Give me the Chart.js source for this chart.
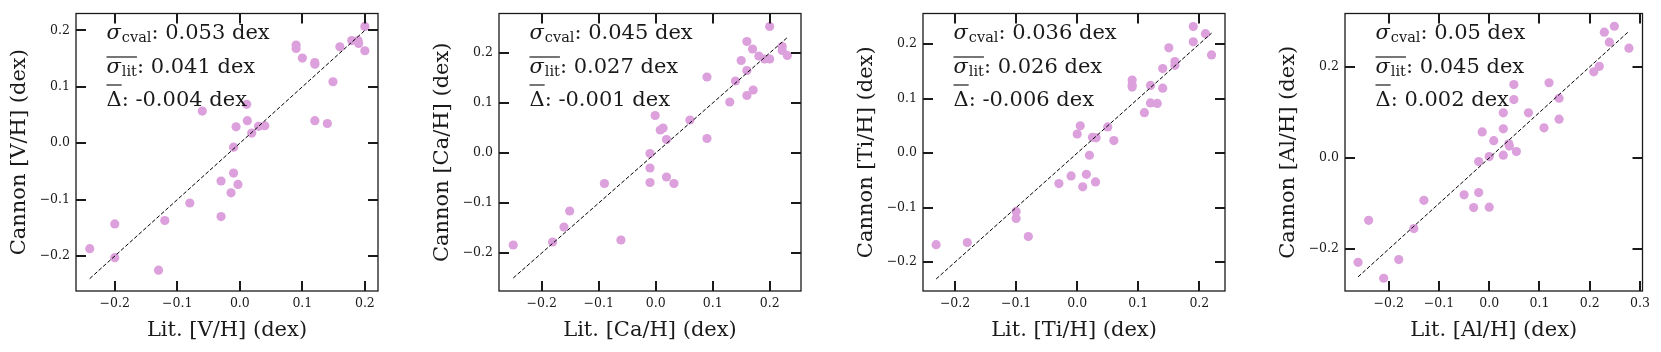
<!DOCTYPE html>
<html>
<head>
<meta charset="utf-8">
<script src="https://cdn.jsdelivr.net/npm/chart.js@4.4.0/dist/chart.umd.min.js"></script>
<style>
  html, body { margin: 0; padding: 0; background: #fff; }
  #wrap { position: relative; width: 1661px; height: 352px; overflow: hidden; }
  #wrap canvas { position: absolute; top: 0; }
</style>
</head>
<body>
<div id="wrap"></div>
<script>
// element names shown in the axis titles
const elements = ['V', 'Ca', 'Ti', 'Al'];

// literature vs Cannon abundances, one pair of arrays per panel
const litV = [-0.24, -0.20, -0.20, -0.13, -0.12, -0.08, -0.06, -0.03, -0.03, -0.014, -0.01, -0.01, -0.006, -0.003, 0.011, 0.012, 0.019, 0.03, 0.04, 0.09, 0.09, 0.10, 0.12, 0.12, 0.12, 0.14, 0.149, 0.16, 0.179, 0.189, 0.19, 0.20, 0.20];
const cannonV = [-0.187, -0.143, -0.203, -0.225, -0.137, -0.106, 0.057, -0.067, -0.130, -0.088, -0.053, -0.007, 0.029, -0.073, 0.069, 0.040, 0.018, 0.030, 0.031, 0.174, 0.168, 0.151, 0.143, 0.140, 0.040, 0.035, 0.109, 0.171, 0.182, 0.182, 0.177, 0.207, 0.164];

const litCa = [-0.25, -0.181, -0.161, -0.151, -0.09, -0.061, -0.01, -0.01, -0.01, -0.001, 0.008, 0.013, 0.019, 0.019, 0.032, 0.06, 0.09, 0.09, 0.13, 0.14, 0.15, 0.16, 0.16, 0.16, 0.171, 0.17, 0.181, 0.191, 0.20, 0.20, 0.222, 0.222, 0.231];
const cannonCa = [-0.184, -0.178, -0.148, -0.116, -0.061, -0.174, -0.001, -0.030, -0.059, 0.075, 0.046, 0.050, 0.027, -0.048, -0.061, 0.066, 0.152, 0.029, 0.102, 0.144, 0.185, 0.223, 0.165, 0.115, 0.126, 0.208, 0.194, 0.188, 0.253, 0.188, 0.213, 0.205, 0.195];

const litTi = [-0.231, -0.18, -0.10, -0.10, -0.08, -0.03, -0.01, 0.0, 0.005, 0.009, 0.015, 0.02, 0.025, 0.031, 0.03, 0.05, 0.06, 0.09, 0.09, 0.09, 0.11, 0.12, 0.12, 0.131, 0.14, 0.14, 0.15, 0.16, 0.16, 0.19, 0.19, 0.21, 0.22];
const cannonTi = [-0.168, -0.164, -0.107, -0.120, -0.153, -0.056, -0.042, 0.035, 0.050, -0.062, -0.039, -0.004, 0.029, 0.028, -0.053, 0.048, 0.023, 0.134, 0.125, 0.121, 0.074, 0.124, 0.092, 0.091, 0.155, 0.119, 0.193, 0.168, 0.161, 0.232, 0.204, 0.219, 0.180];

const litAl = [-0.261, -0.24, -0.21, -0.18, -0.15, -0.13, -0.05, -0.031, -0.021, -0.021, -0.014, 0.0, 0.0, 0.009, 0.028, 0.028, 0.028, 0.039, 0.04, 0.049, 0.049, 0.054, 0.078, 0.109, 0.119, 0.139, 0.139, 0.208, 0.219, 0.229, 0.239, 0.249, 0.278];
const cannonAl = [-0.229, -0.137, -0.264, -0.223, -0.155, -0.093, -0.081, -0.109, -0.008, -0.076, 0.057, 0.003, -0.108, 0.038, 0.099, 0.064, 0.006, 0.031, 0.026, 0.161, 0.128, 0.014, 0.099, 0.066, 0.165, 0.131, 0.085, 0.189, 0.201, 0.276, 0.254, 0.289, 0.241];

// summary numbers printed in each panel
const sigmaCval = ['0.053', '0.045', '0.036', '0.05'];
const sigmaLit = ['0.041', '0.027', '0.026', '0.045'];
const meanDelta = ['-0.004', '-0.001', '-0.006', '0.002'];

// axis ranges and tick values
const xMin = [-0.262, -0.275, -0.2525, -0.287];
const xMax = [0.221, 0.255, 0.242, 0.305];
const yMin = [-0.262, -0.276, -0.253, -0.292];
const yMax = [0.230, 0.279, 0.256, 0.317];
const xTicks = [
    [-0.2, -0.1, 0.0, 0.1, 0.2],
    [-0.2, -0.1, 0.0, 0.1, 0.2],
    [-0.2, -0.1, 0.0, 0.1, 0.2],
    [-0.2, -0.1, 0.0, 0.1, 0.2, 0.3]
];
const yTicks = [
    [-0.2, -0.1, 0.0, 0.1, 0.2],
    [-0.2, -0.1, 0.0, 0.1, 0.2],
    [-0.2, -0.1, 0.0, 0.1, 0.2],
    [-0.2, 0.0, 0.2]
];

const litData = [litV, litCa, litTi, litAl];
const cannonData = [cannonV, cannonCa, cannonTi, cannonAl];

const SERIF = '"DejaVu Serif", serif';
const INK = '#1a1a1a';
const DOT = '#dca0dc';
const canvasLeft = [0, 423, 847, 1269];
const yAxisWidth = 76;

function fmtTick(v) {
    return v.toFixed(1).replace('-', '\u2212');
}

// frame, inward ticks on all four sides, and the stats text
const framePlugin = {
    id: 'frame',
    afterDatasetsDraw(chart) {
        const i = chart.options.plugins.frame.panel;
        const ctx = chart.ctx;
        const a = chart.chartArea;
        const xs = chart.scales.x, ys = chart.scales.y;
        const tl = 10;

        ctx.save();
        ctx.strokeStyle = INK;
        ctx.lineWidth = 1.3;
        ctx.strokeRect(a.left, a.top, a.right - a.left, a.bottom - a.top);

        ctx.lineWidth = 2;
        ctx.beginPath();
        xTicks[i].forEach(v => {
            const px = Math.round(xs.getPixelForValue(v));
            ctx.moveTo(px, a.bottom); ctx.lineTo(px, a.bottom - tl);
            ctx.moveTo(px, a.top); ctx.lineTo(px, a.top + tl);
        });
        yTicks[i].forEach(v => {
            const py = Math.round(ys.getPixelForValue(v));
            ctx.moveTo(a.left, py); ctx.lineTo(a.left + tl, py);
            ctx.moveTo(a.right, py); ctx.lineTo(a.right - tl, py);
        });
        ctx.stroke();

        // stats block
        const x0 = a.left + 30.5;
        const big = 21, small = 14.5;
        ctx.fillStyle = INK;
        ctx.textBaseline = 'alphabetic';
        ctx.textAlign = 'left';

        function sigmaLine(sub, rest, base, bar) {
            let x = x0;
            ctx.font = 'italic ' + big + 'px ' + SERIF;
            ctx.fillText('\u03c3', x, base);
            x += ctx.measureText('\u03c3').width + 1;
            ctx.font = small + 'px ' + SERIF;
            ctx.fillText(sub, x, base + 3);
            x += ctx.measureText(sub).width;
            if (bar) {
                ctx.beginPath();
                ctx.lineWidth = 1.2;
                ctx.moveTo(x0, base - 15.5); ctx.lineTo(x, base - 15.5);
                ctx.stroke();
            }
            ctx.font = big + 'px ' + SERIF;
            ctx.fillText(rest, x, base);
        }
        sigmaLine('cval', ': ' + sigmaCval[i] + ' dex', 39, false);
        sigmaLine('lit', ': ' + sigmaLit[i] + ' dex', 72.5, true);

        ctx.font = big + 'px ' + SERIF;
        const dw = ctx.measureText('\u0394').width;
        ctx.fillText('\u0394', x0, 106);
        ctx.fillText(': ' + meanDelta[i] + ' dex', x0 + dw, 106);
        ctx.beginPath();
        ctx.lineWidth = 1.2;
        ctx.moveTo(x0, 106 - 21); ctx.lineTo(x0 + dw, 106 - 21);
        ctx.stroke();
        ctx.restore();
    }
};

const wrap = document.getElementById('wrap');

elements.forEach((el, i) => {
    const cv = document.createElement('canvas');
    cv.width = 386;
    cv.height = 352;
    cv.style.left = canvasLeft[i] + 'px';
    wrap.appendChild(cv);

    const lit = litData[i];
    const lo = Math.min(...lit), hi = Math.max(...lit);

    new Chart(cv.getContext('2d'), {
        type: 'scatter',
        data: {
            datasets: [{
                type: 'line',
                data: [{ x: lo, y: lo }, { x: hi, y: hi }],
                borderColor: '#000',
                borderWidth: 1,
                borderDash: [4, 2],
                pointRadius: 0,
                fill: false,
                order: 0
            }, {
                data: lit.map((v, k) => ({ x: v, y: cannonData[i][k] })),
                backgroundColor: DOT,
                borderWidth: 0,
                pointRadius: 4.6,
                order: 1
            }]
        },
        options: {
            responsive: false,
            devicePixelRatio: 1,
            animation: false,
            layout: { padding: { top: 7, right: 8, bottom: 0, left: 0 } },
            plugins: {
                legend: { display: false },
                tooltip: { enabled: false },
                frame: { panel: i }
            },
            scales: {
                x: {
                    type: 'linear',
                    min: xMin[i],
                    max: xMax[i],
                    afterBuildTicks: s => { s.ticks = xTicks[i].map(v => ({ value: v })); },
                    afterFit: s => { s.height = 61; },
                    grid: { display: false, drawTicks: false },
                    border: { display: false },
                    ticks: {
                        autoSkip: false,
                        maxRotation: 0,
                        padding: 5,
                        color: INK,
                        font: { family: SERIF, size: 12.5 },
                        callback: v => fmtTick(v)
                    },
                    title: {
                        display: true,
                        text: 'Lit. [' + el + '/H] (dex)',
                        color: INK,
                        font: { family: SERIF, size: 21 },
                        padding: { top: 0, bottom: 9 }
                    }
                },
                y: {
                    type: 'linear',
                    min: yMin[i],
                    max: yMax[i],
                    afterBuildTicks: s => { s.ticks = yTicks[i].map(v => ({ value: v })); },
                    afterFit: s => { s.width = yAxisWidth; },
                    grid: { display: false, drawTicks: false },
                    border: { display: false },
                    ticks: {
                        autoSkip: false,
                        padding: 6,
                        color: INK,
                        font: { family: SERIF, size: 12.5 },
                        callback: v => fmtTick(v)
                    },
                    title: {
                        display: true,
                        text: 'Cannon [' + el + '/H] (dex)',
                        color: INK,
                        font: { family: SERIF, size: 21 },
                        padding: { top: 7, bottom: 0 }
                    }
                }
            }
        },
        plugins: [framePlugin]
    });
});
</script>
</body>
</html>
